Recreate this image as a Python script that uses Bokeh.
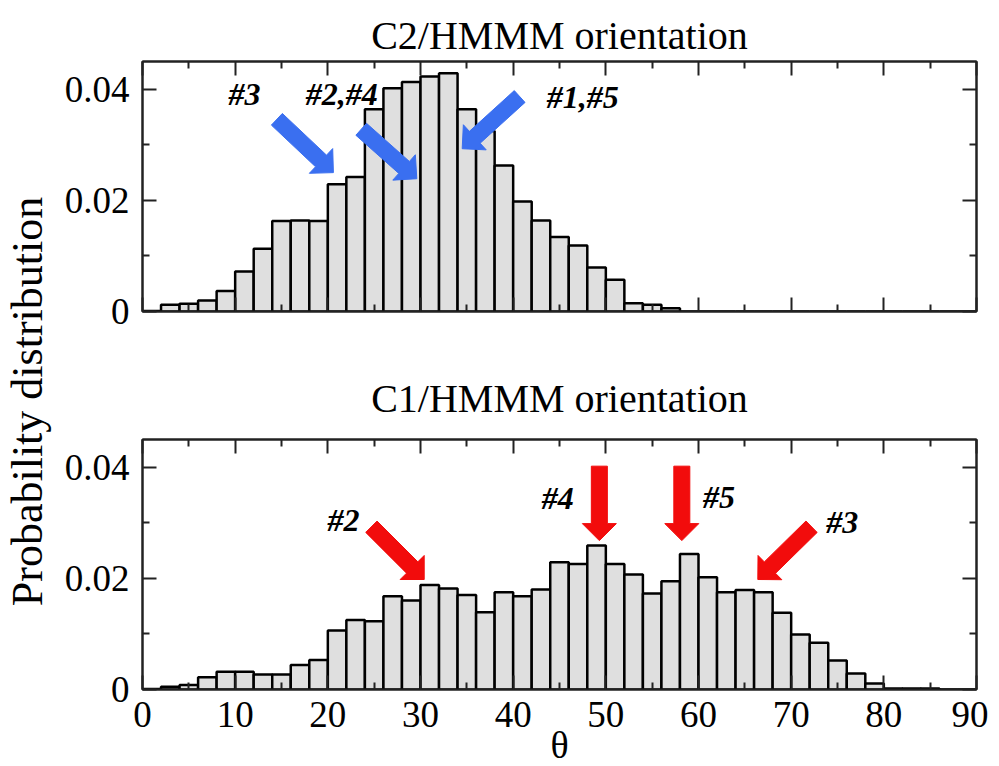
import math
from bokeh.plotting import figure
from bokeh.models import (FixedTicker, LinearAxis, Label, Range1d,
                          CustomJSTickFormatter, ColumnDataSource)
from bokeh.layouts import row, column
from bokeh.embed import file_html
from bokeh.resources import INLINE

# ---------------- data ----------------
bin_width = 2
theta_start = 0
theta_end = 90

# C2/HMMM orientation, probability per 2-degree bin (0-2, 2-4, ... 88-90)
c2_prob = [0.0001, 0.0012, 0.0014, 0.0020, 0.0037, 0.0072, 0.0113, 0.0163,
           0.0164, 0.0163, 0.0229, 0.0242, 0.0364, 0.0402, 0.0413, 0.0423,
           0.0429, 0.0364, 0.0325, 0.0263, 0.0198, 0.0164, 0.0134, 0.0119,
           0.0079, 0.0057, 0.0015, 0.0012, 0.0006, 0.0, 0.0, 0.0,
           0.0, 0.0, 0.0, 0.0, 0.0, 0.0, 0.0, 0.0,
           0.0, 0.0, 0.0, 0.0, 0.0]

# C1/HMMM orientation
c1_prob = [0.0001, 0.0005, 0.0008, 0.0022, 0.0032, 0.0032, 0.0027, 0.0027,
           0.0044, 0.0053, 0.0106, 0.0125, 0.0123, 0.0168, 0.0160, 0.0188,
           0.0182, 0.0170, 0.0139, 0.0175, 0.0168, 0.0180, 0.0229, 0.0226,
           0.0259, 0.0226, 0.0207, 0.0173, 0.0195, 0.0244, 0.0202, 0.0175,
           0.0179, 0.0175, 0.0138, 0.0099, 0.0084, 0.0052, 0.0029, 0.0011,
           0.0002, 0.0002, 0.0002, 0.0, 0.0]

x_major_ticks = [0, 10, 20, 30, 40, 50, 60, 70, 80, 90]
x_minor_ticks = [5, 15, 25, 35, 45, 55, 65, 75, 85]
y_major_ticks = [0, 0.02, 0.04]
y_minor_ticks = [0.01, 0.03]

top_title = "C2/HMMM orientation"
bottom_title = "C1/HMMM orientation"
y_label = "Probability distribution"
x_label = "θ"

# annotations: (label, label_x, label_y), arrows: (tail_x, tail_y, tip_x, tip_y)
c2_labels = [("#3", 11.0, 0.0391), ("#2,#4", 21.5, 0.0391), ("#1,#5", 47.5, 0.0387)]
c2_arrows = [(14.5, 0.0346, 20.6, 0.0250),
             (23.6, 0.0328, 29.6, 0.0239),
             (40.7, 0.0387, 34.5, 0.0293)]
c1_labels = [("#2", 21.7, 0.0306), ("#4", 44.8, 0.0345), ("#5", 62.2, 0.0347), ("#3", 75.5, 0.0301)]
c1_arrows = [(24.7, 0.0293, 30.4, 0.0198),
             (49.3, 0.0402, 49.3, 0.0268),
             (58.2, 0.0402, 58.2, 0.0268),
             (72.2, 0.0293, 66.4, 0.0198)]

# ---------------- styling ----------------
FONT = "Liberation Serif"
FRAME_W, FRAME_H = 834, 250
Y_MAX = 0.045
BLUE = "#3a6ff0"
RED = "#f20c0c"

n_bins = len(c2_prob)
lefts = [theta_start + i * bin_width for i in range(n_bins)]
rights = [l + bin_width for l in lefts]


def add_arrow(p, tail_x, tail_y, tip_x, tip_y, color,
              shaft_w=16.0, head_w=34.0, head_len=17.0):
    sx = FRAME_W / (theta_end - theta_start)
    sy = FRAME_H / Y_MAX
    ax, ay = tail_x * sx, tail_y * sy
    bx, by = tip_x * sx, tip_y * sy
    dx, dy = bx - ax, by - ay
    L = math.hypot(dx, dy)
    ux, uy = dx / L, dy / L
    nx, ny = -uy, ux
    neck_x, neck_y = bx - ux * head_len, by - uy * head_len
    pts = [
        (ax + nx * shaft_w / 2, ay + ny * shaft_w / 2),
        (neck_x + nx * shaft_w / 2, neck_y + ny * shaft_w / 2),
        (neck_x + nx * head_w / 2, neck_y + ny * head_w / 2),
        (bx, by),
        (neck_x - nx * head_w / 2, neck_y - ny * head_w / 2),
        (neck_x - nx * shaft_w / 2, neck_y - ny * shaft_w / 2),
        (ax - nx * shaft_w / 2, ay - ny * shaft_w / 2),
    ]
    xs = [q[0] / sx for q in pts]
    ys = [q[1] / sy for q in pts]
    p.patch(xs, ys, fill_color=color, line_color=color, line_width=1)


def make_panel(title, probs, labels, arrows, color, show_x,
               border_top, border_bottom, title_standoff):
    p = figure(frame_width=FRAME_W, frame_height=FRAME_H,
               x_range=Range1d(theta_start, theta_end), y_range=Range1d(0, Y_MAX),
               output_backend="svg", toolbar_location=None,
               min_border_left=85, min_border_right=12,
               min_border_top=border_top, min_border_bottom=border_bottom,
               title=title)
    p.title.text_font = FONT
    p.title.text_font_size = "40px"
    p.title.text_font_style = "normal"
    p.title.align = "center"
    p.title.text_color = "black"
    p.title.standoff = title_standoff
    p.grid.visible = False
    p.outline_line_color = "#222222"
    p.outline_line_width = 2

    src = ColumnDataSource(dict(left=lefts, right=rights, top=probs))
    p.quad(left="left", right="right", bottom=0, top="top", source=src,
           fill_color="#dfdfdf", line_color="black", line_width=2.5)

    for a in arrows:
        add_arrow(p, *a, color=color)
    for text, lx, ly in labels:
        p.add_layout(Label(x=lx, y=ly, text=text, text_align="center",
                           text_baseline="middle", text_font=FONT,
                           text_font_style="bold italic", text_font_size="32px",
                           text_color="black"))

    p.add_layout(LinearAxis(), "above")
    p.add_layout(LinearAxis(), "right")

    for ax in p.xaxis:
        ax.ticker = FixedTicker(ticks=x_major_ticks, minor_ticks=x_minor_ticks)
    for ax in p.yaxis:
        ax.ticker = FixedTicker(ticks=y_major_ticks, minor_ticks=y_minor_ticks)
        ax.formatter = CustomJSTickFormatter(code="return tick == 0 ? '0' : tick.toFixed(2);")
    for ax in list(p.xaxis) + list(p.yaxis):
        ax.axis_line_color = "#222222"
        ax.axis_line_width = 2
        ax.major_tick_in = 14
        ax.major_tick_out = 0
        ax.minor_tick_in = 7
        ax.minor_tick_out = 0
        ax.major_tick_line_color = "#222222"
        ax.minor_tick_line_color = "#222222"
        ax.major_tick_line_width = 2
        ax.minor_tick_line_width = 2
        ax.major_label_text_font = FONT
        ax.major_label_text_font_size = "37px"
        ax.major_label_text_color = "black"
        ax.major_label_standoff = 6

    p.left[0].major_label_standoff = 13

    hidden = [p.above[0], p.right[0]]
    if not show_x:
        hidden.append(p.below[0])
    for ax in hidden:
        ax.major_label_text_color = None
        ax.major_label_standoff = 0

    if show_x:
        ax = p.below[0]
        ax.axis_label = x_label
        ax.axis_label_text_font = FONT
        ax.axis_label_text_font_size = "38px"
        ax.axis_label_text_font_style = "normal"
        ax.axis_label_text_color = "black"
        ax.axis_label_standoff = -6
        ax.major_label_standoff = 12
    return p


BT1, BB1, BT2, BB2 = 61, 40, 88, 70
p1 = make_panel(top_title, c2_prob, c2_labels, c2_arrows, BLUE, False, BT1, BB1, 7)
p2 = make_panel(bottom_title, c1_prob, c1_labels, c1_arrows, RED, True, BT2, BB2, 38)

total_h = BT1 + 250 + BB1 + BT2 + 250 + BB2
LAB_W = 57
lab = figure(width=LAB_W, height=total_h, x_range=Range1d(0, 1), y_range=Range1d(0, 1),
             output_backend="svg", toolbar_location=None,
             x_axis_type=None, y_axis_type=None, min_border=0)
lab.outline_line_color = None
lab.grid.visible = False
lab.add_layout(Label(x=0.47, y=(total_h - 401) / total_h, text=y_label, angle=math.pi / 2,
                     text_align="center", text_baseline="middle", text_font=FONT,
                     text_font_size="44px", text_color="black"))

layout = row(lab, column(p1, p2))
open("out.html", "w").write(file_html(layout, INLINE))
